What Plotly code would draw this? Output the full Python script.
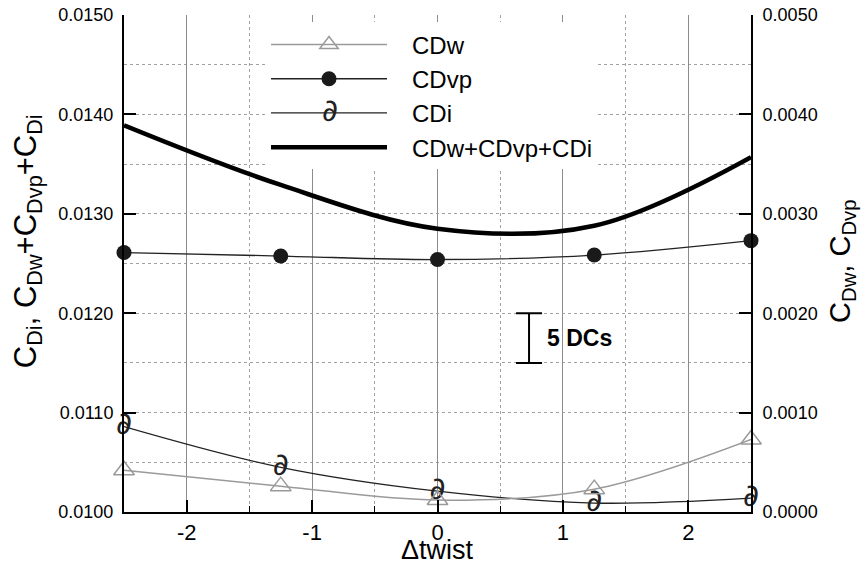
import plotly.graph_objects as go

# ---- data ----
twist = [-2.5, -1.25, 0.0, 1.25, 2.5]
cdw = [0.00042, 0.00026, 0.00012, 0.00023, 0.00073]        # right axis
cdvp = [0.00261, 0.002575, 0.00254, 0.002585, 0.00273]     # right axis
cdi = [0.01086, 0.01045, 0.01021, 0.01009, 0.01014]        # left axis
total = [0.01389, 0.01329, 0.01285, 0.01288, 0.01357]      # left axis
cdi_symbol = "\u2202"

x_tickvals = [-2, -1, 0, 1, 2]
x_ticktext = ["-2", "-1", "0", "1", "2"]

x_title = "\u0394twist"
y_title = "C<sub>Di</sub>, C<sub>Dw</sub>+C<sub>Dvp</sub>+C<sub>Di</sub>"
y2_title = "C<sub>Dw</sub>, C<sub>Dvp</sub>"

# scale bar "5 DCs" (1 DC = 0.0001)
bar_x = [0.73]
bar_y = [0.01175]
bar_half = [0.00025]
bar_label = "5 DCs"

FONT = "Liberation Sans"
SYMFONT = "DejaVu Sans"
PAD = "\u00a0\u00a0\u00a0"

fig = go.Figure()
fig.add_trace(go.Scatter(
    x=twist, y=cdw, name=PAD + "CDw", yaxis="y2", mode="lines+markers",
    cliponaxis=False,
    line=dict(color="#9a9a9a", width=1.5, shape="spline"),
    marker=dict(symbol="triangle-up-open", size=18, color="#9a9a9a",
                line=dict(width=1.5, color="#9a9a9a")),
))
fig.add_trace(go.Scatter(
    x=twist, y=cdvp, name=PAD + "CDvp", yaxis="y2", mode="lines+markers",
    cliponaxis=False,
    line=dict(color="#222222", width=1.3, shape="spline"),
    marker=dict(symbol="circle", size=15, color="#1a1a1a"),
))
fig.add_trace(go.Scatter(
    x=twist, y=cdi, name=PAD + "CDi", mode="lines+text", cliponaxis=False,
    text=[cdi_symbol] * len(twist), textposition="middle center",
    textfont=dict(size=31, color="#222222", family=SYMFONT),
    line=dict(color="#222222", width=1.3, shape="spline"),
))
fig.add_trace(go.Scatter(
    x=twist, y=total, name=PAD + "CDw+CDvp+CDi", mode="lines",
    line=dict(color="black", width=4.5, shape="spline"),
))
fig.add_trace(go.Scatter(
    x=bar_x, y=bar_y, mode="markers", showlegend=False, hoverinfo="skip",
    marker=dict(size=1, color="rgba(0,0,0,0)"),
    error_y=dict(type="data", array=bar_half, symmetric=True,
                 color="black", thickness=2, width=13),
))
fig.add_annotation(x=bar_x[0], y=bar_y[0], text="<b>%s</b>" % bar_label,
                   showarrow=False, xanchor="left", yanchor="middle", xshift=16,
                   font=dict(size=23, color="black", family=FONT))
# legend key glyph for CDi (plotly legends do not show text markers)
fig.add_annotation(xref="paper", yref="paper", x=0.329, y=0.809,
                   xanchor="center", yanchor="middle",
                   text=cdi_symbol, showarrow=False,
                   font=dict(size=31, color="#222222", family=SYMFONT))
# axis titles
fig.add_annotation(xref="paper", yref="paper", x=0.5, y=-0.1087,
                   text=x_title, showarrow=False,
                   xanchor="center", yanchor="bottom", borderpad=0,
                   font=dict(size=27, color="black", family=FONT))
fig.add_annotation(xref="paper", yref="paper", x=-0.153, y=0.545,
                   text=y_title, showarrow=False, textangle=-90,
                   xanchor="center", yanchor="middle",
                   font=dict(size=31, color="black", family=FONT))
fig.add_annotation(xref="paper", yref="paper", x=1.145, y=0.505,
                   text=y2_title, showarrow=False, textangle=-90,
                   xanchor="center", yanchor="middle",
                   font=dict(size=29, color="black", family=FONT))

fig.update_layout(
    width=864, height=566,
    margin=dict(l=124, r=113, t=15, b=54, autoexpand=False),
    paper_bgcolor="white", plot_bgcolor="white",
    font=dict(family=FONT, color="black"),
    showlegend=True,
    legend=dict(x=0.2265, y=0.985, xanchor="left", yanchor="top",
                font=dict(size=24, family=FONT), bgcolor="white",
                itemwidth=116, tracegroupgap=0),
    xaxis=dict(
        range=[-2.5, 2.5], tickvals=x_tickvals, ticktext=x_ticktext,
        ticks="inside", ticklen=12, automargin=False,
        tickwidth=1.5, tickcolor="black", showline=True, linewidth=2,
        linecolor="black", mirror=False, zeroline=False,
        showgrid=True, gridcolor="#8c8c8c", gridwidth=1,
        minor=dict(dtick=0.5, ticks="inside", ticklen=6, tickwidth=1.2,
                   tickcolor="black", showgrid=True, griddash="dot",
                   gridcolor="#a0a0a0", gridwidth=1),
        tickfont=dict(size=22), ticklabelstandoff=0,
    ),
    yaxis=dict(
        range=[0.010, 0.015], tick0=0.010, dtick=0.001, tickformat=".4f",
        ticks="inside", ticklen=12, tickwidth=2, tickcolor="black",
        showline=True, linewidth=2, linecolor="black", zeroline=False,
        automargin=False,
        showgrid=True, gridcolor="#a0a0a0", griddash="dot", gridwidth=1,
        minor=dict(dtick=0.0005, showgrid=True, griddash="dot",
                   gridcolor="#a0a0a0", gridwidth=1),
        tickfont=dict(size=18), ticklabelstandoff=5,
    ),
    yaxis2=dict(
        overlaying="y", side="right",
        range=[0.0, 0.005], tick0=0, dtick=0.001, tickformat=".4f",
        ticks="inside", ticklen=12, tickwidth=2, tickcolor="black",
        showline=True, linewidth=2, linecolor="black", zeroline=False,
        automargin=False,
        showgrid=False, tickfont=dict(size=18), ticklabelstandoff=6,
    ),
)

fig.write_html("out.html")
